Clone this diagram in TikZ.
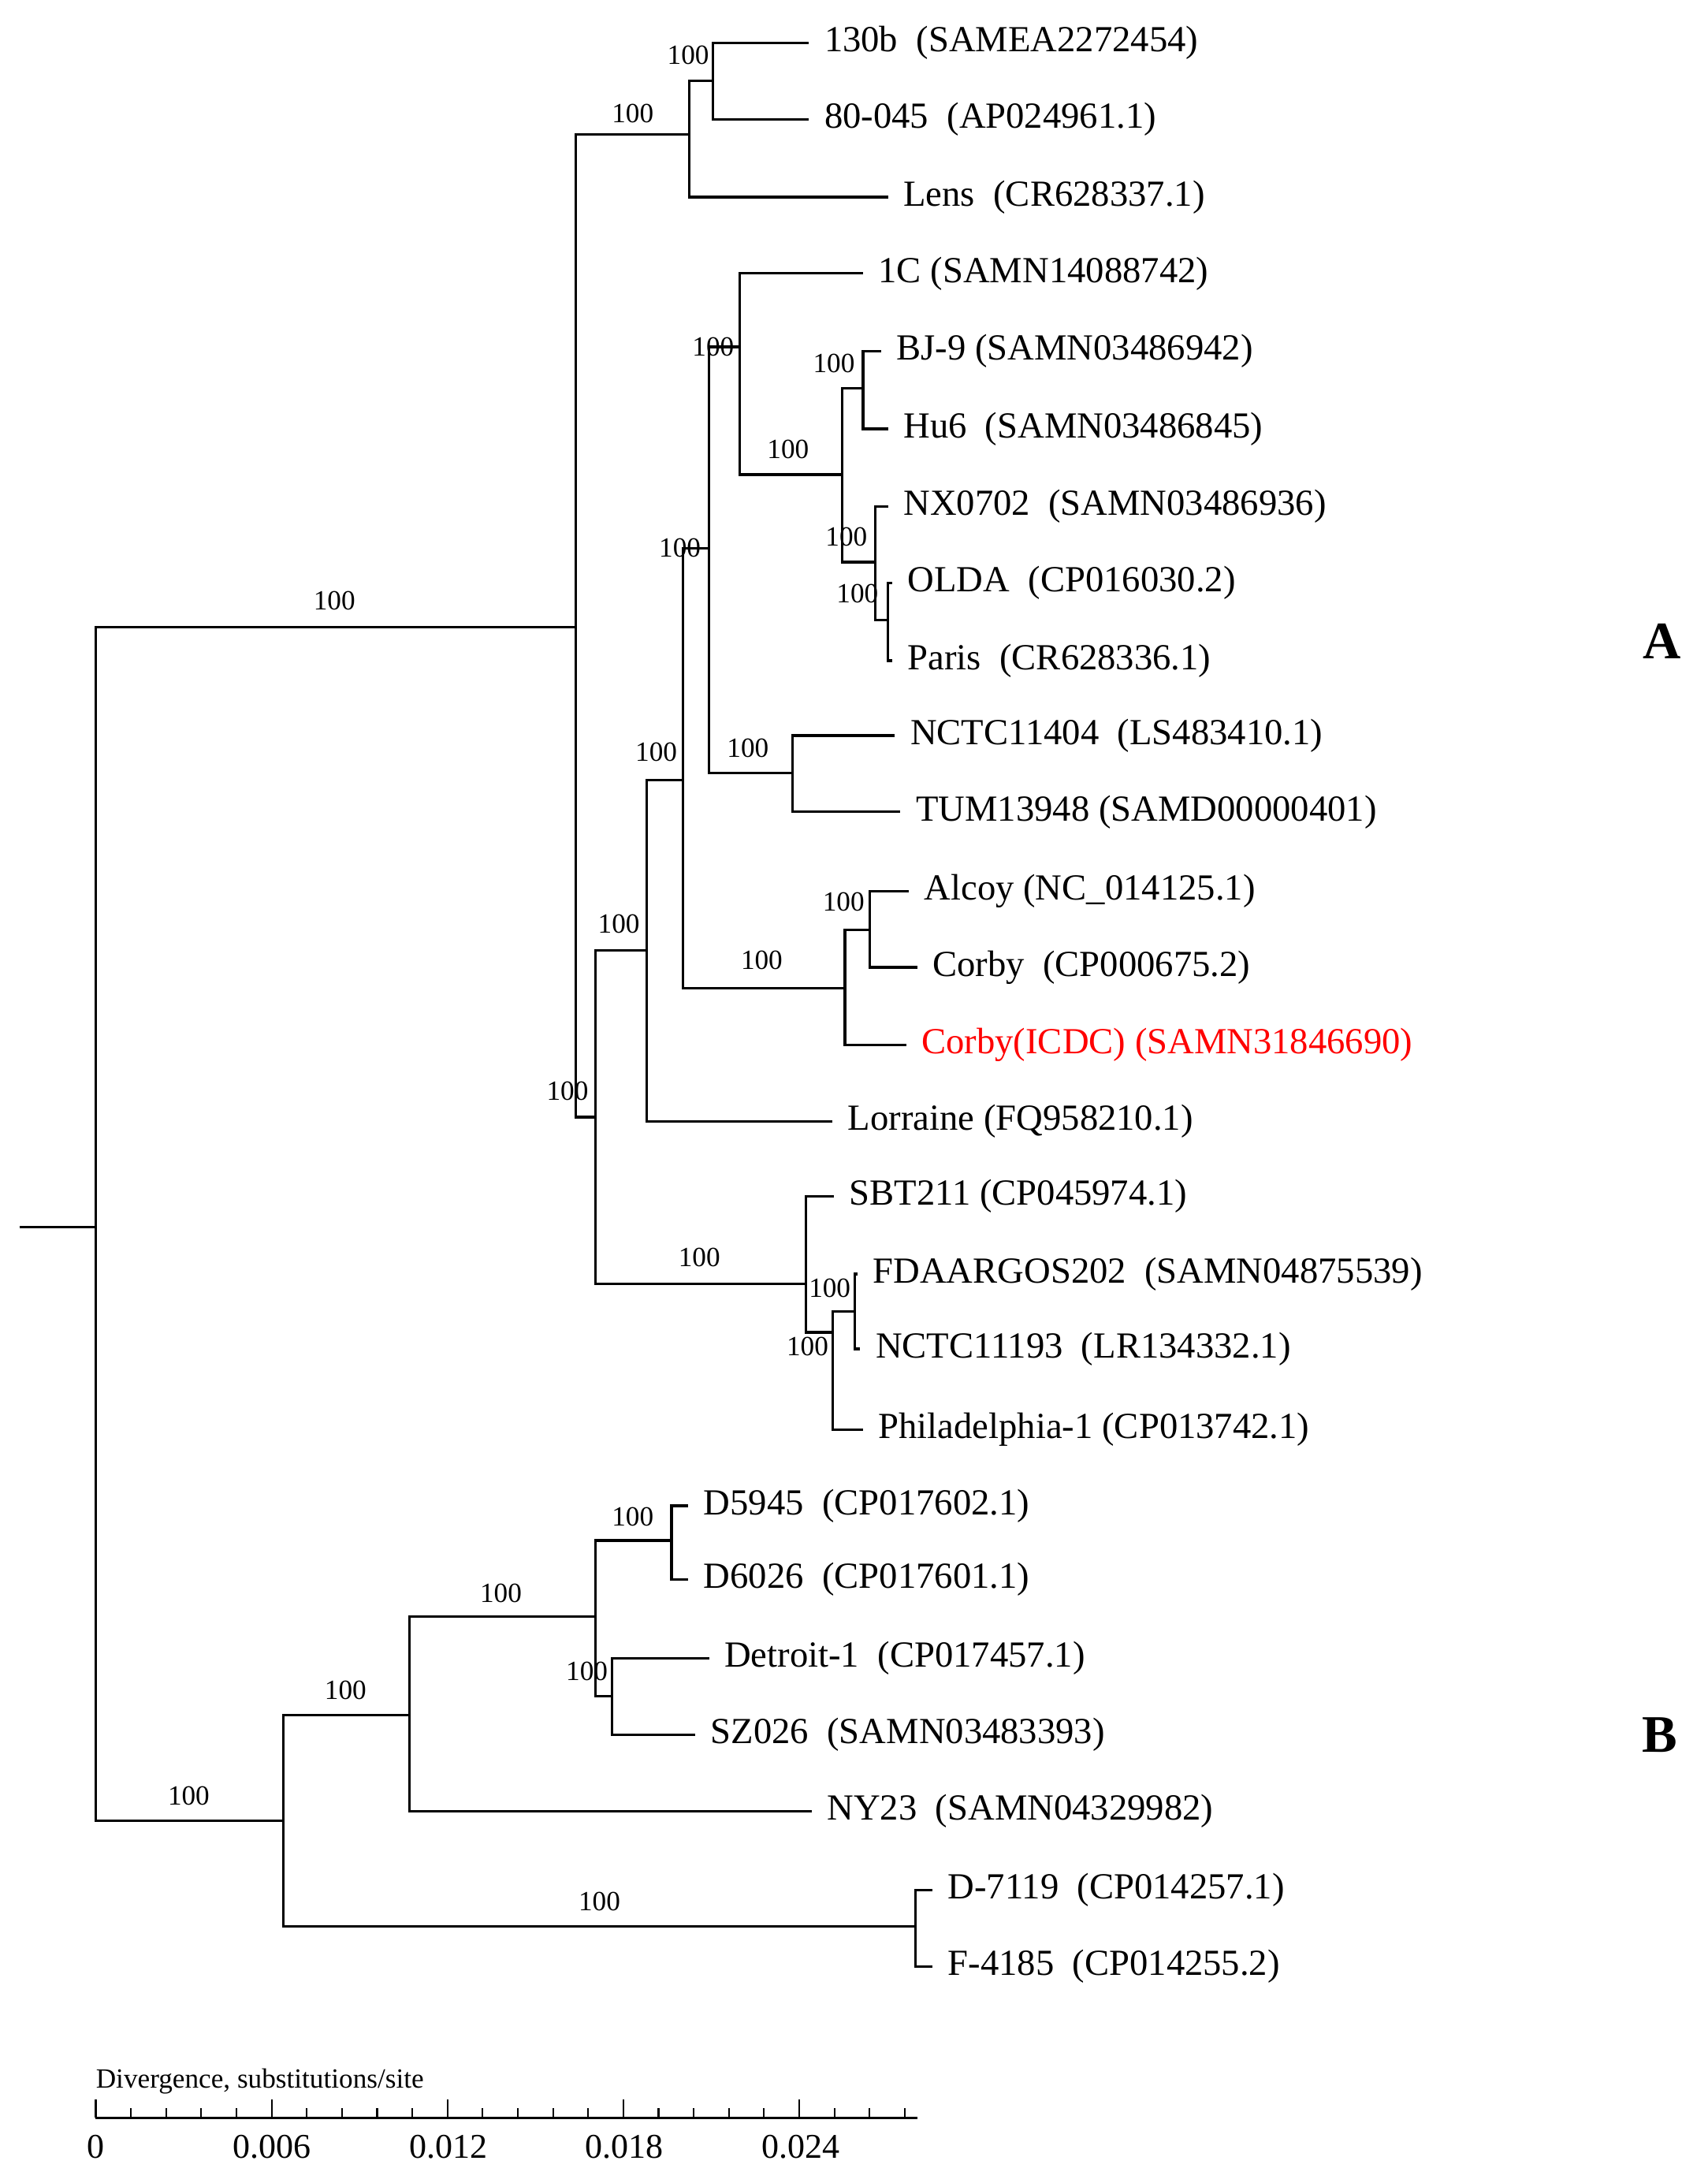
\documentclass[tikz,border=0pt]{standalone}
\usepackage{fontspec}
\setmainfont{Liberation Serif}
\begin{document}
\begin{tikzpicture}[x=1pt,y=-1pt,
  br/.style={line width=1.8pt},
  leaf/.style={anchor=west,xshift=11pt,inner sep=0pt,font=\fontsize{26.5}{28}\selectfont},
  bs/.style={inner sep=0pt,font=\fontsize{20}{22}\selectfont},
  ticklab/.style={inner sep=0pt,font=\fontsize{25}{27}\selectfont}]
\useasboundingbox (0,0) rectangle (1231,1573);
% internal nodes
\coordinate (rs) at (14,884);
\coordinate (n0) at (69,884);
\coordinate (nA) at (415,452);
\coordinate (nB) at (204,1312);
\coordinate (nT) at (497,97);
\coordinate (n130) at (514,58);
\coordinate (nL) at (429,805);
\coordinate (n466) at (466,685);
\coordinate (n581) at (581,925);
\coordinate (n492) at (492,562);
\coordinate (n511) at (511,395);
\coordinate (n609) at (609,712);
\coordinate (n533) at (533,250);
\coordinate (n571) at (571,557);
\coordinate (n607) at (607,342);
\coordinate (n621) at (622,280);
\coordinate (n631) at (631,405);
\coordinate (n640) at (640,447);
\coordinate (n627) at (627,670);
\coordinate (n600) at (600,960);
\coordinate (n616) at (616,945);
\coordinate (n295) at (295,1236);
\coordinate (n660) at (660,1388);
\coordinate (n429) at (429,1165);
\coordinate (n484) at (484,1110);
\coordinate (n441) at (441,1222);
% leaves
\coordinate (l130b) at (583,31);
\coordinate (l80) at (583,86);
\coordinate (lLens) at (640,142);
\coordinate (l1C) at (622,197);
\coordinate (lBJ) at (635,253);
\coordinate (lHu) at (640,309);
\coordinate (lNX) at (640,365);
\coordinate (lOL) at (643,420);
\coordinate (lPa) at (643,476);
\coordinate (lNC1) at (645,530);
\coordinate (lTUM) at (649,585);
\coordinate (lAl) at (655,642);
\coordinate (lCo) at (661,697);
\coordinate (lCI) at (653,753);
\coordinate (lLo) at (600,808);
\coordinate (lSBT) at (601,862);
\coordinate (lFDA) at (618,918);
\coordinate (lNC2) at (620,972);
\coordinate (lPh) at (622,1030);
\coordinate (lD59) at (496,1085);
\coordinate (lD60) at (496,1138);
\coordinate (lDet) at (511,1195);
\coordinate (lSZ) at (501,1250);
\coordinate (lNY) at (585,1305);
\coordinate (lD71) at (672,1362);
\coordinate (lF41) at (672,1417);
% branches
\draw[br] (rs) -- (n0);
\draw[br] (n0) |- (nA); \draw[br] (n0) |- (nB);
\draw[br] (nA) |- (nT); \draw[br] (nA) |- (nL);
\draw[br] (nT) |- (n130); \draw[br] (nT) |- (lLens);
\draw[br] (n130) |- (l130b); \draw[br] (n130) |- (l80);
\draw[br] (nL) |- (n466); \draw[br] (nL) |- (n581);
\draw[br] (n466) |- (n492); \draw[br] (n466) |- (lLo);
\draw[br] (n492) |- (n511); \draw[br] (n492) |- (n609);
\draw[br] (n511) |- (n533); \draw[br] (n511) |- (n571);
\draw[br] (n533) |- (l1C); \draw[br] (n533) |- (n607);
\draw[br] (n607) |- (n621); \draw[br] (n607) |- (n631);
\draw[br] (n621) |- (lBJ); \draw[br] (n621) |- (lHu);
\draw[br] (n631) |- (lNX); \draw[br] (n631) |- (n640);
\draw[br] (n640) |- (lOL); \draw[br] (n640) |- (lPa);
\draw[br] (n571) |- (lNC1); \draw[br] (n571) |- (lTUM);
\draw[br] (n609) |- (n627); \draw[br] (n609) |- (lCI);
\draw[br] (n627) |- (lAl); \draw[br] (n627) |- (lCo);
\draw[br] (n581) |- (lSBT); \draw[br] (n581) |- (n600);
\draw[br] (n600) |- (n616); \draw[br] (n600) |- (lPh);
\draw[br] (n616) |- (lFDA); \draw[br] (n616) |- (lNC2);
\draw[br] (nB) |- (n295); \draw[br] (nB) |- (n660);
\draw[br] (n660) |- (lD71); \draw[br] (n660) |- (lF41);
\draw[br] (n295) |- (n429); \draw[br] (n295) |- (lNY);
\draw[br] (n429) |- (n484); \draw[br] (n429) |- (n441);
\draw[br] (n484) |- (lD59); \draw[br] (n484) |- (lD60);
\draw[br] (n441) |- (lDet); \draw[br] (n441) |- (lSZ);
% leaf labels
\node[leaf] (t1) at (l130b) {130b\ \ (SAMEA2272454)};
\node[leaf] (t2) at (l80) {80-045\ \ (AP024961.1)};
\node[leaf] (t3) at (lLens) {Lens\ \ (CR628337.1)};
\node[leaf] (t4) at (l1C) {1C (SAMN14088742)};
\node[leaf] (t5) at (lBJ) {BJ-9 (SAMN03486942)};
\node[leaf] (t6) at (lHu) {Hu6\ \ (SAMN03486845)};
\node[leaf] (t7) at (lNX) {NX0702\ \ (SAMN03486936)};
\node[leaf] (t8) at (lOL) {OLDA\ \ (CP016030.2)};
\node[leaf] (t9) at (lPa) {Paris\ \ (CR628336.1)};
\node[leaf] (t10) at (lNC1) {NCTC11404\ \ (LS483410.1)};
\node[leaf] (t11) at (lTUM) {TUM13948 (SAMD00000401)};
\node[leaf] (t12) at (lAl) {Alcoy (NC\_014125.1)};
\node[leaf] (t13) at (lCo) {Corby\ \ (CP000675.2)};
\node[leaf,text=red] (t14) at (lCI) {Corby(ICDC) (SAMN31846690)};
\node[leaf] (t15) at (lLo) {Lorraine (FQ958210.1)};
\node[leaf] (t16) at (lSBT) {SBT211 (CP045974.1)};
\node[leaf] (t17) at (lFDA) {FDAARGOS202\ \ (SAMN04875539)};
\node[leaf] (t18) at (lNC2) {NCTC11193\ \ (LR134332.1)};
\node[leaf] (t19) at (lPh) {Philadelphia-1 (CP013742.1)};
\node[leaf] (t20) at (lD59) {D5945\ \ (CP017602.1)};
\node[leaf] (t21) at (lD60) {D6026\ \ (CP017601.1)};
\node[leaf] (t22) at (lDet) {Detroit-1\ \ (CP017457.1)};
\node[leaf] (t23) at (lSZ) {SZ026\ \ (SAMN03483393)};
\node[leaf] (t24) at (lNY) {NY23\ \ (SAMN04329982)};
\node[leaf] (t25) at (lD71) {D-7119\ \ (CP014257.1)};
\node[leaf] (t26) at (lF41) {F-4185\ \ (CP014255.2)};
% bootstrap
\node[bs] (b1) at (496,40) {100};
\node[bs] (b2) at (456,82) {100};
\node[bs] (b3) at (241,433) {100};
\node[bs] (b4) at (514,250) {100};
\node[bs] (b5) at (601,262) {100};
\node[bs] (b6) at (568,324) {100};
\node[bs] (b7) at (610,387) {100};
\node[bs] (b8) at (618,428) {100};
\node[bs] (b9) at (490,395) {100};
\node[bs] (b10) at (539,539) {100};
\node[bs] (b11) at (473,542) {100};
\node[bs] (b12) at (608,650) {100};
\node[bs] (b13) at (446,666) {100};
\node[bs] (b14) at (549,692) {100};
\node[bs] (b15) at (409,786) {100};
\node[bs] (b16) at (504,906) {100};
\node[bs] (b17) at (598,928) {100};
\node[bs] (b18) at (582,970) {100};
\node[bs] (b19) at (456,1093) {100};
\node[bs] (b20) at (361,1148) {100};
\node[bs] (b21) at (423,1204) {100};
\node[bs] (b22) at (249,1218) {100};
\node[bs] (b23) at (136,1294) {100};
\node[bs] (b24) at (432,1370) {100};
% clade letters
\node[font=\fontsize{38}{40}\selectfont\bfseries] (cA) at (1198,462) {A};
\node[font=\fontsize{38}{40}\selectfont\bfseries] (cB) at (1196,1250) {B};
% scale bar
\node[anchor=west,inner sep=0pt,font=\fontsize{20}{22}\selectfont] (sl) at (69,1500) {Divergence, substitutions/site};
\coordinate (s0) at (69,1526);
\coordinate (s1) at (661,1526);
\draw[line width=2pt] (s0) -- (s1);
\foreach \i in {0,...,23} {
  \pgfmathsetmacro{\xx}{69+25.35*\i}
  \pgfmathtruncatemacro{\mm}{mod(\i,5)}
  \ifnum\mm=0
    \draw[line width=1.2pt] (\xx,1526) -- (\xx,1513);
  \else
    \draw[line width=1.2pt] (\xx,1526) -- (\xx,1519);
  \fi
}
\node[ticklab] (k0) at (69,1547) {0};
\node[ticklab] (k1) at (196,1547) {0.006};
\node[ticklab] (k2) at (323,1547) {0.012};
\node[ticklab] (k3) at (450,1547) {0.018};
\node[ticklab] (k4) at (577,1547) {0.024};
\end{tikzpicture}
\end{document}
